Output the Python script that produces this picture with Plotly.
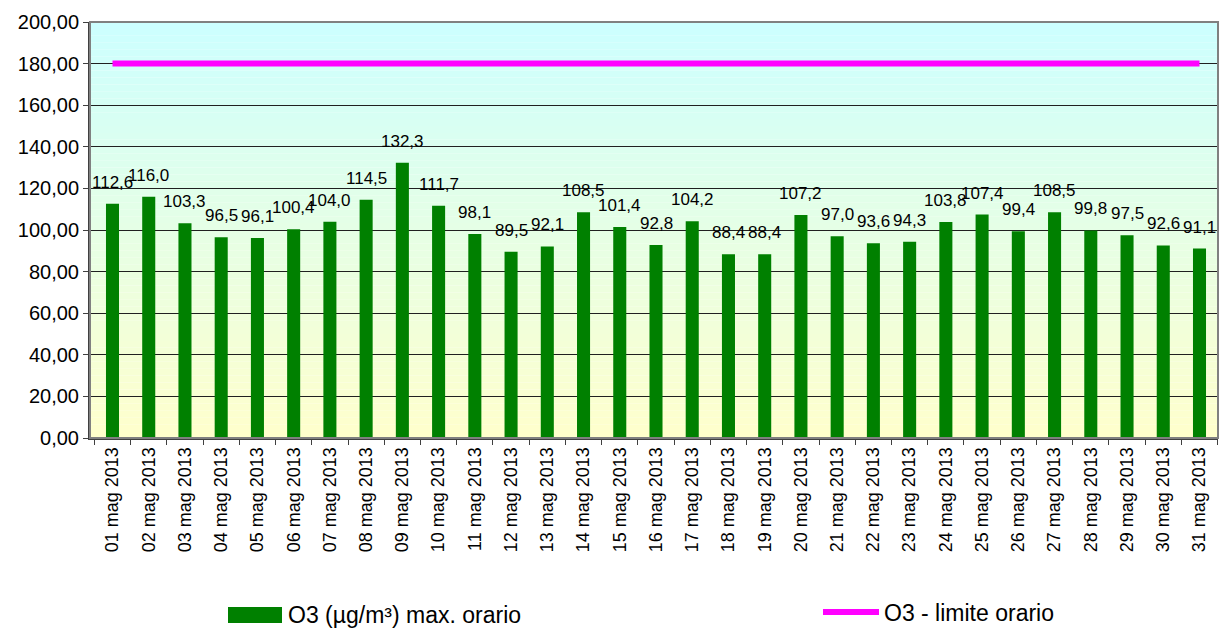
import plotly.graph_objects as go

categories = [f"{d:02d} mag 2013" for d in range(1, 32)]
o3_max = [112.6, 116.0, 103.3, 96.5, 96.1, 100.4, 104.0, 114.5, 132.3, 111.7,
          98.1, 89.5, 92.1, 108.5, 101.4, 92.8, 104.2, 88.4, 88.4, 107.2,
          97.0, 93.6, 94.3, 103.8, 107.4, 99.4, 108.5, 99.8, 97.5, 92.6, 91.1]
limit_value = 180
limit = [limit_value] * len(categories)
bar_labels = [f"{v:.1f}".replace(".", ",") for v in o3_max]

FONT = "Liberation Sans, Arial, sans-serif"

fig = go.Figure()
fig.add_trace(go.Bar(x=categories, y=o3_max, marker_color="#008000",
                     marker_line_width=0, name="O3 (µg/m³) max. orario",
                     showlegend=False))
fig.add_trace(go.Scatter(x=categories, y=limit, mode="lines",
                         line=dict(color="#FF00FF", width=6),
                         name="O3 - limite orario", showlegend=False))

# value labels above bars
for c, v, t in zip(categories, o3_max, bar_labels):
    fig.add_annotation(x=c, y=v, text=t, showarrow=False, yanchor="bottom",
                       yshift=10, font=dict(family=FONT, size=17, color="black"))

# gradient background (cyan top -> light yellow bottom)
shapes = []
n = 60
top = (204, 255, 255)
bot = (255, 255, 204)
for i in range(n):
    f = (i + 0.5) / n
    col = tuple(round(bot[k] + (top[k] - bot[k]) * f) for k in range(3))
    shapes.append(dict(type="rect", xref="paper", yref="paper",
                       x0=0, x1=1, y0=i / n, y1=(i + 1) / n,
                       fillcolor=f"rgb{col}", line_width=0, layer="below"))
# plot border
shapes.append(dict(type="rect", xref="paper", yref="paper", x0=0, x1=1, y0=0, y1=1,
                   line=dict(color="#808080", width=2), layer="above"))

# manual legend
W0, W = 90, 1128
H0, H = 438, 416
def px(xp): return (xp - W0) / W
def py(yp): return (H0 - yp) / H
shapes.append(dict(type="rect", xref="paper", yref="paper",
                   x0=px(228), x1=px(282), y0=py(623), y1=py(607),
                   fillcolor="#008000", line_width=0))
shapes.append(dict(type="line", xref="paper", yref="paper",
                   x0=px(823), x1=px(879), y0=py(612), y1=py(612),
                   line=dict(color="#FF00FF", width=6)))
fig.add_annotation(xref="paper", yref="paper", x=px(286), y=py(615),
                   text="O3 (µg/m³) max. orario", showarrow=False,
                   xanchor="left", yanchor="middle",
                   font=dict(family=FONT, size=23, color="black"))
fig.add_annotation(xref="paper", yref="paper", x=px(882), y=py(613),
                   text="O3 - limite orario", showarrow=False,
                   xanchor="left", yanchor="middle",
                   font=dict(family=FONT, size=23, color="black"))

fig.update_layout(
    width=1219, height=628,
    margin=dict(l=90, r=1, t=22, b=190),
    paper_bgcolor="white", plot_bgcolor="rgba(0,0,0,0)",
    separators=",.",
    bargap=0.64,
    shapes=shapes,
    font=dict(family=FONT, color="black"),
    xaxis=dict(type="category", tickangle=-90, tickson="boundaries",
               ticks="outside", ticklen=5, tickcolor="#404040",
               showgrid=False, showline=True, linecolor="#404040", linewidth=2,
               tickfont=dict(family=FONT, size=18, color="black")),
    yaxis=dict(range=[0, 200], dtick=20, tickformat=".2f",
               ticks="outside", ticklen=5, tickcolor="#404040",
               showgrid=True, gridcolor="#202020", gridwidth=1,
               showline=True, linecolor="#404040", linewidth=2,
               zeroline=False,
               tickfont=dict(family=FONT, size=20, color="black")),
)

fig.write_html("out.html", config={"displayModeBar": False},
               post_script="document.body.style.margin='0';document.body.style.overflow='hidden';")
